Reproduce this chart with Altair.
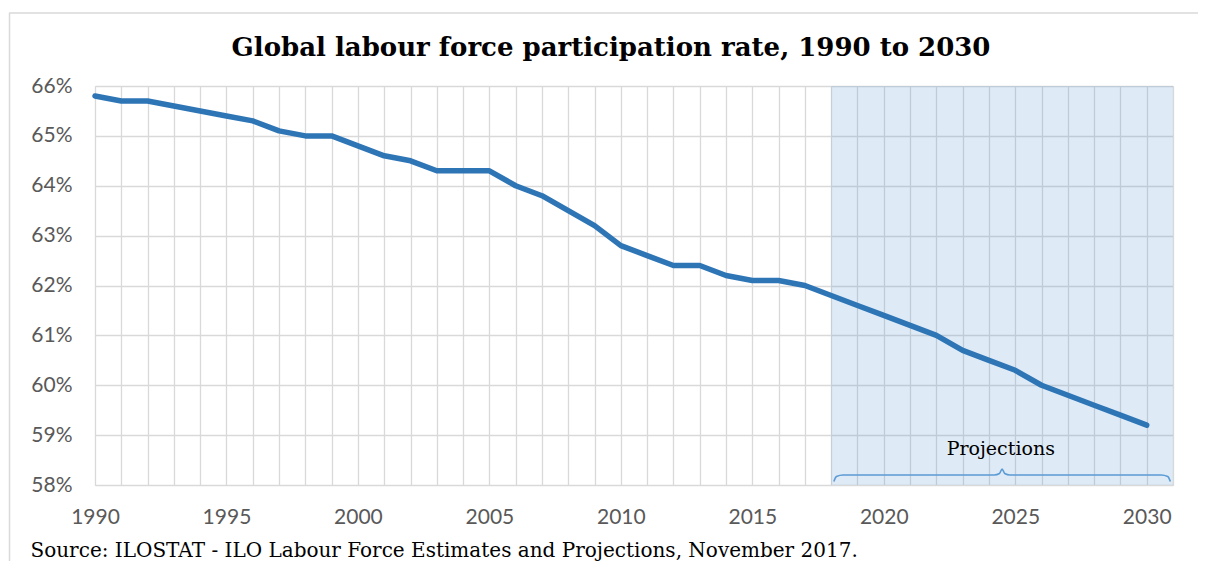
import altair as alt
import pandas as pd

years = list(range(1990, 2031))
rates = [65.8, 65.7, 65.7, 65.6, 65.5, 65.4, 65.3, 65.1, 65.0, 65.0,
         64.8, 64.6, 64.5, 64.3, 64.3, 64.3, 64.0, 63.8, 63.5, 63.2,
         62.8, 62.6, 62.4, 62.4, 62.2, 62.1, 62.1, 62.0, 61.8, 61.6,
         61.4, 61.2, 61.0, 60.7, 60.5, 60.3, 60.0, 59.8, 59.6, 59.4,
         59.2]

proj_start = [2018]
proj_end = [2031]

brace_x = [2018.1, 2018.2, 2018.45, 2024.2, 2024.4, 2024.5, 2024.6, 2024.8, 2030.55, 2030.8, 2030.9]
brace_y = [58.07, 58.17, 58.2, 58.2, 58.23, 58.32, 58.23, 58.2, 58.2, 58.17, 58.07]

label_x = [2024.45]
label_y = [58.6]
label_text = ["Projections"]

title_text = ["Global labour force participation rate, 1990 to 2030"]
source_text = "Source: ILOSTAT - ILO Labour Force Estimates and Projections, November 2017."

df = pd.DataFrame({"year": years, "rate": [r / 100 for r in rates]})
df_proj = pd.DataFrame({"year": proj_start, "end": proj_end})
df_brace = pd.DataFrame({"year": brace_x, "rate": [v / 100 for v in brace_y]})
df_label = pd.DataFrame({"year": label_x, "rate": [v / 100 for v in label_y], "t": label_text})
df_title = pd.DataFrame({"t": title_text})
one = pd.DataFrame({"a": [0]})

xscale = alt.Scale(domain=[1990, 2031], nice=False, zero=False)
yscale = alt.Scale(domain=[0.58, 0.66], nice=False, zero=False)

LABEL_FONT = "Lato"
SERIF = "DejaVu Serif"

xaxis = alt.Axis(
    values=list(range(1990, 2032)),
    labelExpr="datum.value % 5 === 0 ? datum.value : ''",
    grid=True, gridColor="#d9d9d9", gridWidth=1.3,
    ticks=False, tickSize=0, domain=False,
    labelFont=LABEL_FONT, labelFontSize=21, labelColor="#595959",
    labelBaseline="alphabetic", labelPadding=38, labelFlush=False,
    labelOverlap=False,
    title=source_text, titleFont=SERIF, titleFontSize=20, titleFontWeight="normal",
    titleColor="black", titleAlign="left", titleBaseline="alphabetic",
    titleX=-65, titleY=71,
)
yaxis = alt.Axis(
    values=[0.58, 0.59, 0.60, 0.61, 0.62, 0.63, 0.64, 0.65, 0.66],
    format=".0%",
    grid=True, gridColor="#d9d9d9", gridWidth=1.3,
    ticks=False, tickSize=0, domain=False,
    labelFont=LABEL_FONT, labelFontSize=21, labelColor="#595959",
    labelPadding=23, title=None,
)

X = alt.X("year:Q", scale=xscale, axis=xaxis)
Y = alt.Y("rate:Q", scale=yscale, axis=yaxis)

shade = alt.Chart(df_proj).mark_rect(color="#5b9bd5", opacity=0.2).encode(
    x=X,
    x2="end:Q",
)

line = alt.Chart(df).mark_line(
    color="#2e75b6", strokeWidth=5.5, strokeCap="round", strokeJoin="round"
).encode(x=X, y=Y)

brace = alt.Chart(df_brace).mark_line(
    color="#5b9bd5", strokeWidth=1.6, interpolate="monotone"
).encode(x=X, y=Y)

label = alt.Chart(df_label).mark_text(
    font=SERIF, fontSize=19, color="black", align="center", baseline="alphabetic"
).encode(x=X, y=Y, text="t:N")

title = alt.Chart(df_title).mark_text(
    font=SERIF, fontSize=26, fontWeight="bold", color="black",
    align="center", baseline="alphabetic"
).encode(x=alt.value(516), y=alt.value(-30), text="t:N")

frame_top = alt.Chart(one).mark_rule(color="#d9d9d9", strokeWidth=1.5).encode(
    x=alt.value(-86), x2=alt.value(1130), y=alt.value(-73)
)
frame_left = alt.Chart(one).mark_rule(color="#d9d9d9", strokeWidth=1.5).encode(
    x=alt.value(-85.5), y=alt.value(-73), y2=alt.value(490)
)

chart = alt.layer(frame_top, frame_left, title, shade, line, brace, label).properties(
    width=1078,
    height=399,
    autosize=alt.AutoSizeParams(type="none"),
    padding={"left": 87, "top": 78, "right": 25, "bottom": 90},
).configure_view(
    fill="#f2f2f2", stroke="#d9d9d9", strokeWidth=1.5
).configure(background="white")

chart.save("out.html", embed_options={"renderer": "svg", "actions": False})
